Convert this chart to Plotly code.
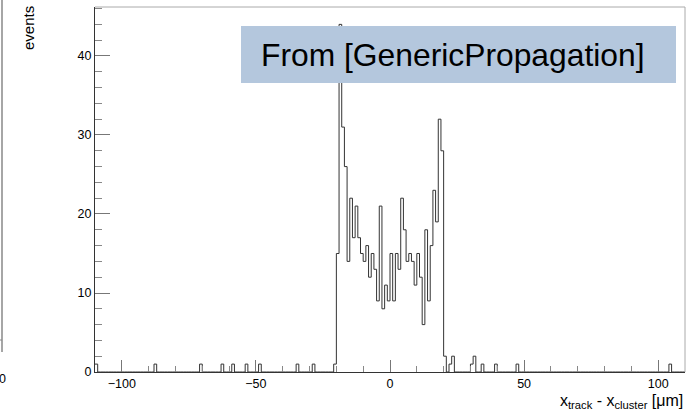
import numpy as np
import plotly.graph_objects as go

# ---------------- data ----------------
x_min, x_max, bin_width = -110, 110, 1

# contiguous core of the residual distribution (lower bin edges from main_start)
main_start = -21
main_counts = [1, 15, 44, 31, 26, 14, 22, 17, 21, 17, 15, 14, 16, 12, 15, 13, 9, 21,
               8, 11, 9, 15, 9, 15, 13, 22, 18, 14, 15, 14, 11, 15, 12, 6, 18, 9,
               16, 23, 19, 32, 28, 2]

# isolated single entries (lower bin edge, count)
tail_bins = [-110, -88, -71, -63, -59, -54, -49, -35, -29, 22, 23, 30, 31, 34, 39, 47, 104]
tail_counts = [1, 1, 1, 1, 1, 1, 1, 1, 1, 1, 2, 1, 2, 1, 1, 1, 1]

x_tickvals = [-100, -50, 0, 50, 100]
y_tickvals = [0, 10, 20, 30, 40]
y_max = 46.2

box_text = "From [GenericPropagation]"
x_title = "x<sub>track</sub> - x<sub>cluster</sub> [μm]"
y_title = "events"

# ---------------- build histogram ----------------
n_bins = int((x_max - x_min) / bin_width)
counts = np.zeros(n_bins)
for i, c in enumerate(main_counts):
    counts[int((main_start + i - x_min) / bin_width)] = c
for lo, c in zip(tail_bins, tail_counts):
    counts[int((lo - x_min) / bin_width)] = c
edges = np.linspace(x_min, x_max, n_bins + 1)
step_y = np.append(counts, counts[-1])

fig = go.Figure()
fig.add_trace(go.Scatter(
    x=edges, y=step_y, mode="lines", line=dict(shape="hv", color="#333333", width=1),
    hoverinfo="skip", cliponaxis=True))

# ---------------- layout ----------------
L, R, T, B = 95, 5, 7, 43
W, H = 690, 415
pw, ph = W - L - R, H - T - B


def px(xp):
    return (xp - L) / pw


def py(yp):
    return (H - B - yp) / ph


font_family = "Liberation Sans, Arial, Helvetica, sans-serif"
fig.update_layout(
    width=W, height=H, margin=dict(l=L, r=R, t=T, b=B),
    plot_bgcolor="white", paper_bgcolor="white", showlegend=False,
    font=dict(family=font_family, size=12.5, color="black"),
    xaxis=dict(range=[x_min, x_max], tickvals=x_tickvals, ticks="inside", ticklen=12,
               tickcolor="#777", tickwidth=1, showline=True, linecolor="#333", linewidth=1,
               mirror=False, showgrid=False, zeroline=False,
               tickfont=dict(size=12.5, family=font_family),
               minor=dict(dtick=10, tick0=0, ticks="inside", ticklen=6, tickcolor="#888",
                          showgrid=False)),
    yaxis=dict(range=[0, y_max], tickvals=y_tickvals, ticks="inside", ticklen=15,
               tickcolor="#777", tickwidth=1, showline=True, linecolor="#333", linewidth=1,
               mirror=False, showgrid=False, zeroline=False,
               tickfont=dict(size=12.5, family=font_family),
               minor=dict(dtick=2, tick0=0, ticks="inside", ticklen=7, tickcolor="#888",
                          showgrid=False)),
)

# lighter top / right frame
fig.add_shape(type="line", xref="paper", yref="paper", x0=0, x1=1, y0=1, y1=1,
              line=dict(color="#aaa", width=1))
fig.add_shape(type="line", xref="paper", yref="paper", x0=1, x1=1, y0=0, y1=1,
              line=dict(color="#aaa", width=1))

# label box
fig.add_shape(type="rect", xref="paper", yref="paper",
              x0=px(241), x1=px(676), y0=py(83), y1=py(26),
              fillcolor="rgb(180,199,221)", line=dict(width=0), layer="above")
fig.add_annotation(xref="paper", yref="paper", x=px(259), y=py(55), xanchor="left",
                   yanchor="middle", text=box_text, showarrow=False,
                   font=dict(size=31.8, color="black", family=font_family))

# axis titles
fig.add_annotation(xref="paper", yref="paper", x=1.0, y=py(390), xanchor="right",
                   yanchor="top", text=x_title, showarrow=False,
                   font=dict(size=16, color="black", family=font_family))
fig.add_annotation(xref="paper", yref="paper", x=px(29), y=py(4), xanchor="center",
                   yanchor="top", text=y_title, textangle=-90, showarrow=False,
                   font=dict(size=15, color="black", family=font_family))

# sliver of neighbouring pad at the far left
fig.add_shape(type="line", xref="paper", yref="paper", x0=px(2), x1=px(2),
              y0=py(0), y1=py(352), line=dict(color="#888", width=1.5))
fig.add_shape(type="line", xref="paper", yref="paper", x0=px(0), x1=px(2),
              y0=py(340), y1=py(340), line=dict(color="#888", width=1))
fig.add_annotation(xref="paper", yref="paper", x=px(7.5), y=py(379), xanchor="right",
                   yanchor="middle", text="0", showarrow=False,
                   font=dict(size=12.5, color="black", family=font_family))

fig.write_html("out.html")
